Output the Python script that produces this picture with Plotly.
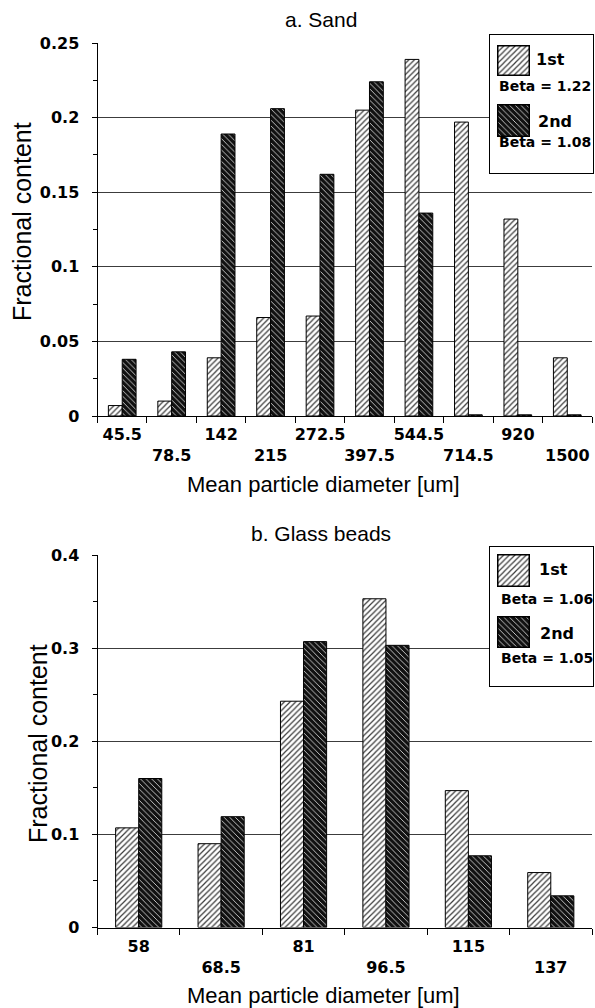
import plotly.graph_objects as go

W, H = 595, 1008

# ---------------- data ----------------
series_names = ["1st", "2nd"]

sand_sizes = ["45.5", "78.5", "142", "215", "272.5", "397.5", "544.5", "714.5", "920", "1500"]
sand_first = [0.007, 0.010, 0.039, 0.066, 0.067, 0.205, 0.239, 0.197, 0.132, 0.039]
sand_second = [0.038, 0.043, 0.189, 0.206, 0.162, 0.224, 0.136, 0.0008, 0.0008, 0.0008]
sand_beta = ["Beta = 1.22", "Beta = 1.08"]

glass_sizes = ["58", "68.5", "81", "96.5", "115", "137"]
glass_first = [0.107, 0.090, 0.243, 0.353, 0.147, 0.059]
glass_second = [0.160, 0.119, 0.307, 0.303, 0.077, 0.034]
glass_beta = ["Beta = 1.06", "Beta = 1.05"]

titles = ["a. Sand", "b. Glass beads"]
x_title = "Mean particle diameter [um]"
y_title = "Fractional content"


# ---------------- helpers ----------------
def px(x):
    return x / W


def py(y):
    return 1 - y / H


LIGHT = dict(color="white", line=dict(color="black", width=1),
             pattern=dict(shape="/", bgcolor="white", fgcolor="#3a3a3a", size=4, solidity=0.3))
DARK = dict(color="#111", line=dict(color="black", width=1),
            pattern=dict(shape="\\", bgcolor="#111111", fgcolor="#e8e8e8", size=4, solidity=0.2))
STYLES = [LIGHT, DARK]

TICK_FONT = dict(family="DejaVu Sans", size=16, color="black", weight="bold")
LEG_FONT = dict(family="DejaVu Sans", size=14, color="black", weight="bold")
TXT = "Liberation Sans, Arial, sans-serif"

fig = go.Figure()

panels = [
    dict(sizes=sand_sizes, vals=[sand_first, sand_second], ax="", ymax=0.25, dtick=0.05,
         ypx=(43, 416)),
    dict(sizes=glass_sizes, vals=[glass_first, glass_second], ax="2", ymax=0.4, dtick=0.1,
         ypx=(555, 927.5)),
]

layout = dict(
    width=W, height=H, margin=dict(l=0, r=0, t=0, b=0),
    template="none", paper_bgcolor="white", plot_bgcolor="white",
    showlegend=False, bargap=0.44, bargroupgap=0, barmode="group",
)

for p in panels:
    a = p["ax"]
    for name, vals, st in zip(series_names, p["vals"], STYLES):
        fig.add_trace(go.Bar(x=p["sizes"], y=vals, name=name, marker=st,
                             xaxis="x" + a, yaxis="y" + a, hoverinfo="x+y+name"))
    ticktext = [s if i % 2 == 0 else "<br>" + s for i, s in enumerate(p["sizes"])]
    layout["xaxis" + a] = dict(
        type="category", domain=[px(97.5), px(592)], anchor="y" + a,
        showline=True, linecolor="black", linewidth=1,
        ticks="outside", ticklen=6, tickcolor="black", tickson="boundaries",
        tickmode="array", tickvals=p["sizes"], ticktext=ticktext, tickangle=0,
        tickfont=TICK_FONT, showgrid=False, zeroline=False, ticklabelstandoff=4,
    )
    layout["yaxis" + a] = dict(
        domain=[py(p["ypx"][1]), py(p["ypx"][0])], anchor="x" + a,
        range=[0, p["ymax"]], dtick=p["dtick"], tick0=0,
        showgrid=True, gridcolor="#3c3c3c", gridwidth=1,
        showline=True, linecolor="black", linewidth=1,
        ticks="outside", ticklen=5, tickcolor="black",
        minor=dict(dtick=p["dtick"] / 2, ticks="outside", ticklen=4, tickcolor="black", showgrid=False),
        zeroline=False, tickfont=TICK_FONT, ticklabelstandoff=9,
    )

# ---------------- legend boxes (as small subplots) ----------------
legend_specs = [
    dict(box=(490, 593, 35, 173), sw=[(46, 75), (105, 136)],
         lab=[(534, 59), (536, 121)], beta=[(497, 86), (497, 142)], betas=sand_beta),
    dict(box=(490, 593, 547, 686), sw=[(555, 586), (617, 647)],
         lab=[(537, 569), (538, 633)], beta=[(499, 599), (499, 658)], betas=glass_beta),
]

annotations = []
axn = 3
for spec in legend_specs:
    x0, x1, y0, y1 = spec["box"]
    layout["xaxis%d" % axn] = dict(domain=[px(x0), px(x1)], anchor="y%d" % axn, range=[0, 1],
                                   showline=True, mirror=True, linecolor="black", linewidth=1,
                                   showgrid=False, zeroline=False, showticklabels=False, ticks="",
                                   fixedrange=True)
    layout["yaxis%d" % axn] = dict(domain=[py(y1), py(y0)], anchor="x%d" % axn, range=[0, 1],
                                   showline=True, mirror=True, linecolor="black", linewidth=1,
                                   showgrid=False, zeroline=False, showticklabels=False, ticks="",
                                   fixedrange=True)
    fig.add_trace(go.Scatter(x=[], y=[], xaxis="x%d" % axn, yaxis="y%d" % axn, showlegend=False))
    axn += 1

for spec in legend_specs:
    for k, (name, st) in enumerate(zip(series_names, STYLES)):
        sy0, sy1 = spec["sw"][k]
        layout["xaxis%d" % axn] = dict(domain=[px(498), px(529)], anchor="y%d" % axn, range=[-0.5, 0.5],
                                       showline=True, mirror=True, linecolor="black", linewidth=1,
                                       showgrid=False, zeroline=False, showticklabels=False, ticks="",
                                       fixedrange=True)
        layout["yaxis%d" % axn] = dict(domain=[py(sy1), py(sy0)], anchor="x%d" % axn, range=[0, 1],
                                       showline=True, mirror=True, linecolor="black", linewidth=1,
                                       showgrid=False, zeroline=False, showticklabels=False, ticks="",
                                       fixedrange=True)
        fig.add_trace(go.Bar(x=[0], y=[1], width=[1], marker=st, xaxis="x%d" % axn,
                             yaxis="y%d" % axn, showlegend=False, hoverinfo="skip"))
        axn += 1
        lx, ly = spec["lab"][k]
        annotations.append(dict(text=name, x=px(lx), y=py(ly), xref="paper", yref="paper",
                                xanchor="left", yanchor="middle", showarrow=False,
                                font=dict(LEG_FONT, size=16)))
        bx, by = spec["beta"][k]
        annotations.append(dict(text=spec["betas"][k], x=px(bx), y=py(by), xref="paper", yref="paper",
                                xanchor="left", yanchor="middle", showarrow=False, font=LEG_FONT))

# ---------------- titles ----------------
for t, (tx, ty) in zip(titles, [(321, 19), (321, 533)]):
    annotations.append(dict(text=t, x=px(tx), y=py(ty), xref="paper", yref="paper",
                            xanchor="center", yanchor="middle", showarrow=False,
                            font=dict(family=TXT, size=21, color="black")))
for (tx, ty) in [(323, 484), (323, 995)]:
    annotations.append(dict(text=x_title, x=px(tx), y=py(ty), xref="paper", yref="paper",
                            xanchor="center", yanchor="middle", showarrow=False,
                            font=dict(family=TXT, size=22, color="black")))
for (tx, ty) in [(22, 222), (38, 744)]:
    annotations.append(dict(text=y_title, x=px(tx), y=py(ty), xref="paper", yref="paper",
                            xanchor="center", yanchor="middle", showarrow=False, textangle=-90,
                            font=dict(family=TXT, size=25, color="black")))

layout["annotations"] = annotations
fig.update_layout(**layout)
fig.write_html("out.html")
